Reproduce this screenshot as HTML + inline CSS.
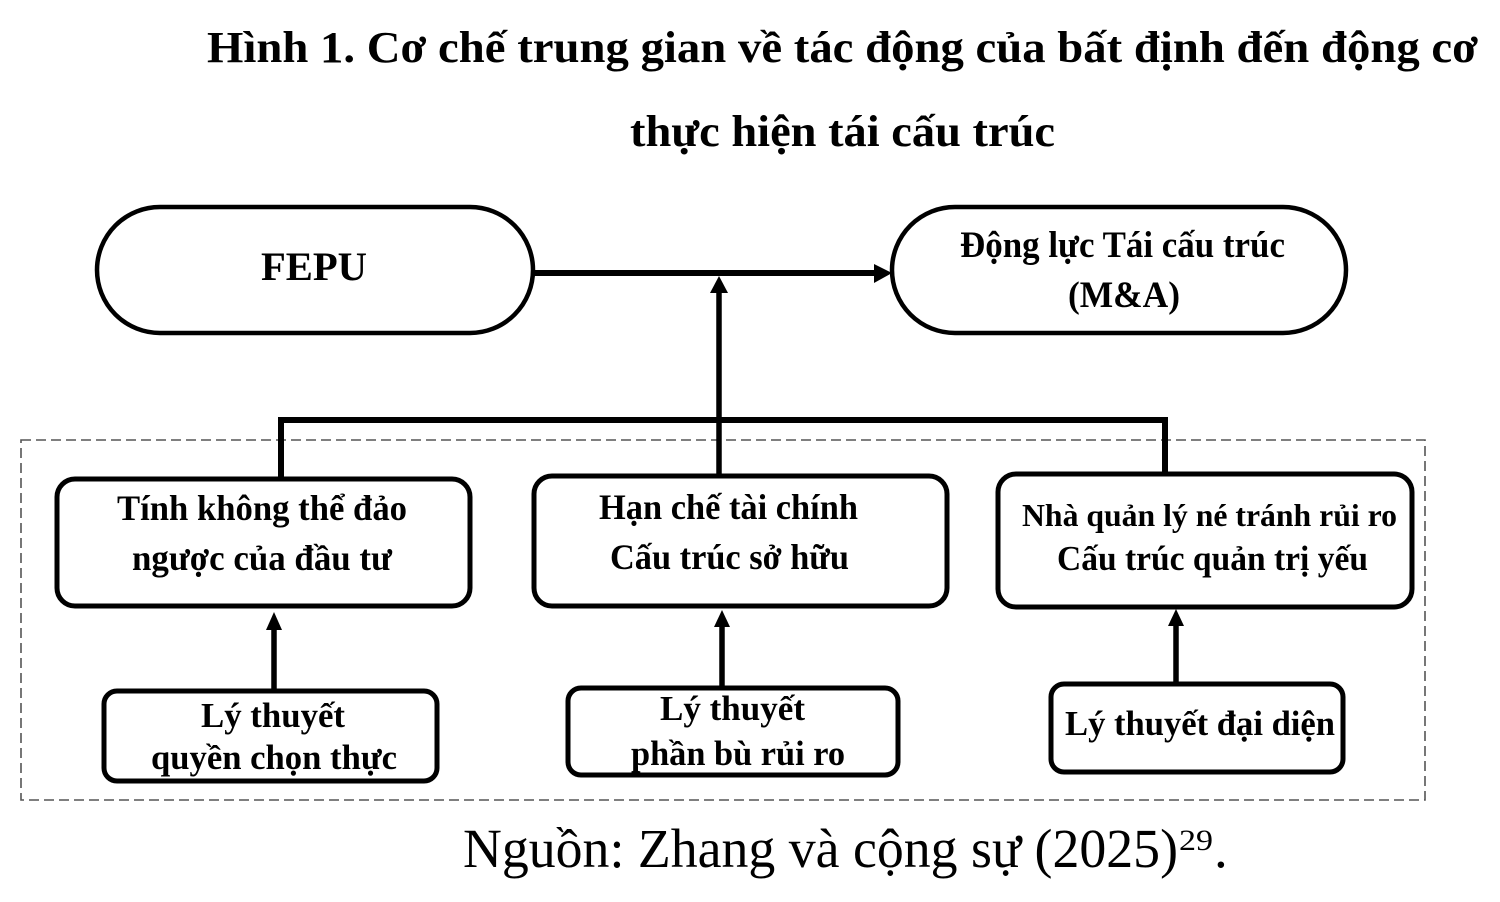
<!DOCTYPE html>
<html>
<head>
<meta charset="utf-8">
<style>
  html, body { margin: 0; padding: 0; background: #ffffff; }
  body { width: 1500px; height: 902px; overflow: hidden; }
  svg { display: block; }
  text { font-family: "Liberation Serif", "DejaVu Serif", serif; fill: #000; }
  .b { font-weight: bold; }
</style>
</head>
<body>
<svg width="1500" height="902" viewBox="0 0 1500 902" xmlns="http://www.w3.org/2000/svg">
  <rect x="0" y="0" width="1500" height="902" fill="#ffffff"/>

  <!-- Title -->
  <text class="b" x="207" y="62" font-size="44" textLength="1271" lengthAdjust="spacingAndGlyphs">Hình 1. Cơ chế trung gian về tác động của bất định đến động cơ</text>
  <text class="b" x="630" y="146" font-size="44" textLength="425" lengthAdjust="spacingAndGlyphs">thực hiện tái cấu trúc</text>

  <!-- Dashed container -->
  <rect x="21" y="440" width="1404" height="360" fill="none" stroke="#555" stroke-width="1.6" stroke-dasharray="10,5"/>

  <!-- Top stadiums -->
  <rect x="97" y="207" width="436" height="126" rx="63" ry="63" fill="#fff" stroke="#000" stroke-width="4.5"/>
  <rect x="892" y="207" width="454" height="126" rx="63" ry="63" fill="#fff" stroke="#000" stroke-width="4.5"/>

  <!-- Horizontal arrow FEPU -> Motive -->
  <line x1="533" y1="273" x2="878" y2="273" stroke="#000" stroke-width="6"/>
  <polygon points="874,264 892,273 874,283" fill="#000"/>

  <!-- Bracket -->
  <polyline points="281,478 281,420 1165,420 1165,474" fill="none" stroke="#000" stroke-width="6" stroke-linejoin="miter"/>

  <!-- Vertical mediator arrow -->
  <line x1="719" y1="476" x2="719" y2="290" stroke="#000" stroke-width="5.5"/>
  <polygon points="710,293 719,276 728,293" fill="#000"/>

  <!-- Middle boxes -->
  <rect x="57" y="479" width="413" height="127" rx="18" ry="18" fill="#fff" stroke="#000" stroke-width="5"/>
  <rect x="534" y="476" width="413" height="130" rx="18" ry="18" fill="#fff" stroke="#000" stroke-width="5"/>
  <rect x="998" y="474" width="414" height="133" rx="18" ry="18" fill="#fff" stroke="#000" stroke-width="5"/>

  <!-- Bottom boxes -->
  <rect x="104" y="691" width="333" height="90" rx="13" ry="13" fill="#fff" stroke="#000" stroke-width="5"/>
  <rect x="568" y="688" width="330" height="87" rx="13" ry="13" fill="#fff" stroke="#000" stroke-width="5"/>
  <rect x="1051" y="684" width="292" height="88" rx="13" ry="13" fill="#fff" stroke="#000" stroke-width="5"/>

  <!-- Bottom arrows -->
  <line x1="274" y1="690" x2="274" y2="625" stroke="#000" stroke-width="5.5"/>
  <polygon points="266,630 274,612 282,630" fill="#000"/>
  <line x1="722" y1="687" x2="722" y2="622" stroke="#000" stroke-width="5.5"/>
  <polygon points="714,627 722,610 730,627" fill="#000"/>
  <line x1="1176" y1="683" x2="1176" y2="620" stroke="#000" stroke-width="5.5"/>
  <polygon points="1168,626 1176,609 1184,626" fill="#000"/>

  <!-- Stadium labels -->
  <text class="b" x="261" y="280" font-size="40" textLength="106" lengthAdjust="spacingAndGlyphs">FEPU</text>
  <text class="b" x="960" y="257" font-size="37" textLength="325" lengthAdjust="spacingAndGlyphs">Động lực Tái cấu trúc</text>
  <text class="b" x="1068" y="307" font-size="37" textLength="112" lengthAdjust="spacingAndGlyphs">(M&amp;A)</text>

  <!-- Middle box labels -->
  <text class="b" x="117" y="520" font-size="36" textLength="290" lengthAdjust="spacingAndGlyphs">Tính không thể đảo</text>
  <text class="b" x="132" y="570" font-size="36" textLength="260" lengthAdjust="spacingAndGlyphs">ngược của đầu tư</text>

  <text class="b" x="599" y="519" font-size="36" textLength="259" lengthAdjust="spacingAndGlyphs">Hạn chế tài chính</text>
  <text class="b" x="610" y="569" font-size="36" textLength="239" lengthAdjust="spacingAndGlyphs">Cấu trúc sở hữu</text>

  <text class="b" x="1022" y="526" font-size="32" textLength="375" lengthAdjust="spacingAndGlyphs">Nhà quản lý né tránh rủi ro</text>
  <text class="b" x="1057" y="570" font-size="35" textLength="311" lengthAdjust="spacingAndGlyphs">Cấu trúc quản trị yếu</text>

  <!-- Bottom box labels -->
  <text class="b" x="201" y="727" font-size="35" textLength="144" lengthAdjust="spacingAndGlyphs">Lý thuyết</text>
  <text class="b" x="151" y="769" font-size="35" textLength="246" lengthAdjust="spacingAndGlyphs">quyền chọn thực</text>

  <text class="b" x="660" y="720" font-size="35" textLength="145" lengthAdjust="spacingAndGlyphs">Lý thuyết</text>
  <text class="b" x="631" y="765" font-size="35" textLength="214" lengthAdjust="spacingAndGlyphs">phần bù rủi ro</text>

  <text class="b" x="1065" y="735" font-size="35" textLength="270" lengthAdjust="spacingAndGlyphs">Lý thuyết đại diện</text>

  <!-- Source -->
  <text x="463" y="867" font-size="55" textLength="715" lengthAdjust="spacingAndGlyphs">Nguồn: Zhang và cộng sự (2025)</text>
  <text x="1179" y="850" font-size="30" textLength="34" lengthAdjust="spacingAndGlyphs">29</text>
  <text x="1214" y="867" font-size="55">.</text>
</svg>
</body>
</html>
